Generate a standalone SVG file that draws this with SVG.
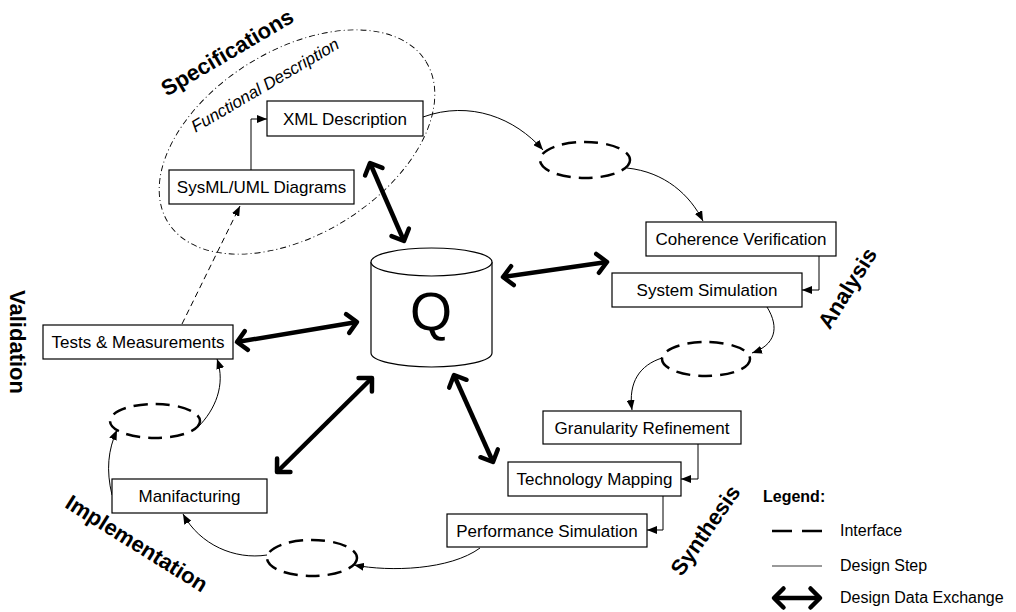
<svg xmlns="http://www.w3.org/2000/svg" width="1016" height="612" viewBox="0 0 1016 612">
<style>
text{font-family:"Liberation Sans",Arial,sans-serif;fill:#000}
.box rect{fill:#fff;stroke:#000;stroke-width:1.2}
.box text{font-size:17px;text-anchor:middle}
.lbl{font-size:22px;font-weight:bold;text-anchor:middle}
.step{fill:none;stroke:#000;stroke-width:1}
.iface{fill:none;stroke:#000;stroke-width:2.5;stroke-dasharray:14 8}
.dde{fill:none;stroke:#000;stroke-width:4.5}
.leg{font-size:16px}
</style>
<defs>
<marker id="ah" viewBox="0 0 10 8" refX="10" refY="4" markerWidth="10" markerHeight="8" markerUnits="userSpaceOnUse" orient="auto"><path d="M0,0 L10,4 L0,8 z" fill="#000"/></marker>
<marker id="ch" viewBox="-14 -14 18 28" refX="0" refY="0" markerWidth="18" markerHeight="28" markerUnits="userSpaceOnUse" orient="auto-start-reverse"><path d="M-9.5,-9.5 L0,0 L-9.5,9.5" fill="none" stroke="#000" stroke-width="4.5" stroke-linecap="round" stroke-linejoin="round"/></marker>
</defs>
<rect width="1016" height="612" fill="#fff"/>

<!-- functional description region -->
<g id="spec-region">
<ellipse cx="297" cy="142" rx="152" ry="92" transform="rotate(-32 297 142)" fill="none" stroke="#000" stroke-width="0.9" stroke-dasharray="6 3 1 3"/>
<text transform="translate(265 85) rotate(-30.5)" y="6" style="font-size:17px;font-style:italic;text-anchor:middle">Functional Description</text>
</g>

<!-- phase labels -->
<text class="lbl" transform="translate(227 52) rotate(-30.5)" y="8">Specifications</text>
<text class="lbl" transform="translate(847 288) rotate(-58)" y="8">Analysis</text>
<text class="lbl" transform="translate(705 530) rotate(-55)" y="8">Synthesis</text>
<text class="lbl" transform="translate(137 543) rotate(32)" y="8">Implementation</text>
<text class="lbl" transform="translate(18 342) rotate(90)" y="8">Validation</text>

<!-- connectors -->
<g id="connectors">
<path class="step" d="M251,170 L251,119 L267,119" marker-end="url(#ah)"/>
<path class="step" d="M423,117 C470,100 515,118 543,150" marker-end="url(#ah)"/>
<path class="step" d="M627,168 C665,172 690,195 703,221" marker-end="url(#ah)"/>
<path class="step" d="M819,256 L819,290 L802,290" marker-end="url(#ah)"/>
<path class="step" d="M767,307 C780,328 775,345 752,353" marker-end="url(#ah)"/>
<path class="step" d="M662,358 C640,365 628,382 632,410" marker-end="url(#ah)"/>
<path class="step" d="M698,444 L698,479 L681,479" marker-end="url(#ah)"/>
<path class="step" d="M663,496 L663,530 L647,530" marker-end="url(#ah)"/>
<path class="step" d="M480,548 C450,570 390,572 354,565" marker-end="url(#ah)"/>
<path class="step" d="M267,555 C235,560 200,545 183,514" marker-end="url(#ah)"/>
<path class="step" d="M112,495 C106,470 108,450 117,430" marker-end="url(#ah)"/>
<path class="step" d="M198,427 C215,410 226,385 217,359" marker-end="url(#ah)"/>
<path class="step" d="M182,324 L240,206" stroke-dasharray="6 4" marker-end="url(#ah)"/>

<line class="dde" x1="370" y1="163" x2="404" y2="241" marker-start="url(#ch)" marker-end="url(#ch)"/>
<line class="dde" x1="503" y1="277" x2="607" y2="262" marker-start="url(#ch)" marker-end="url(#ch)"/>
<line class="dde" x1="237" y1="342" x2="357" y2="322" marker-start="url(#ch)" marker-end="url(#ch)"/>
<line class="dde" x1="372" y1="378" x2="277" y2="472" marker-start="url(#ch)" marker-end="url(#ch)"/>
<line class="dde" x1="454" y1="375" x2="493" y2="462" marker-start="url(#ch)" marker-end="url(#ch)"/>
</g>

<!-- interfaces -->
<g id="if1"><ellipse class="iface" cx="585" cy="160" rx="45" ry="18"/></g>
<g id="if2"><ellipse class="iface" cx="706" cy="359" rx="44" ry="17"/></g>
<g id="if3"><ellipse class="iface" cx="312" cy="558" rx="45" ry="18"/></g>
<g id="if4"><ellipse class="iface" cx="155" cy="421" rx="45" ry="17"/></g>

<!-- database -->
<g id="db">
<path d="M371,262 L371,353 A60.5,14 0 0 0 492,353 L492,262" fill="#fff" stroke="#000" stroke-width="1.2"/>
<ellipse cx="431.5" cy="262" rx="60.5" ry="14" fill="#fff" stroke="#000" stroke-width="1.2"/>
<text x="431" y="330" style="font-size:54px;text-anchor:middle">Q</text>
</g>

<!-- nodes -->
<g id="xml" class="box"><rect x="267" y="101" width="156" height="35"/><text x="345" y="124.5">XML Description</text></g>
<g id="sysml" class="box"><rect x="169" y="170" width="185" height="34"/><text x="261.5" y="193">SysML/UML Diagrams</text></g>
<g id="coh" class="box"><rect x="646" y="222" width="190" height="34"/><text x="741" y="245">Coherence Verification</text></g>
<g id="sim" class="box"><rect x="612" y="273" width="190" height="34"/><text x="707" y="296">System Simulation</text></g>
<g id="gran" class="box"><rect x="543" y="411" width="198" height="33"/><text x="642" y="433.5">Granularity Refinement</text></g>
<g id="tech" class="box"><rect x="508" y="462" width="173" height="34"/><text x="594.5" y="485">Technology Mapping</text></g>
<g id="perf" class="box"><rect x="447" y="514" width="200" height="33"/><text x="547" y="536.5">Performance Simulation</text></g>
<g id="manif" class="box"><rect x="112" y="479" width="155" height="34"/><text x="189.5" y="502">Manifacturing</text></g>
<g id="tests" class="box"><rect x="43" y="325" width="190" height="34"/><text x="138" y="348">Tests &amp; Measurements</text></g>

<!-- legend -->
<g id="legend">
<text x="763" y="502" style="font-size:16px;font-weight:bold">Legend:</text>
<line x1="772" y1="531" x2="822" y2="531" stroke="#000" stroke-width="2.5" stroke-dasharray="20 10"/>
<text class="leg" x="840" y="536">Interface</text>
<line x1="772" y1="566" x2="822" y2="566" stroke="#777" stroke-width="1.3"/>
<text class="leg" x="840" y="571">Design Step</text>
<line class="dde" x1="774" y1="598" x2="820" y2="598" marker-start="url(#ch)" marker-end="url(#ch)"/>
<text class="leg" x="840" y="603">Design Data Exchange</text>
</g>
</svg>
